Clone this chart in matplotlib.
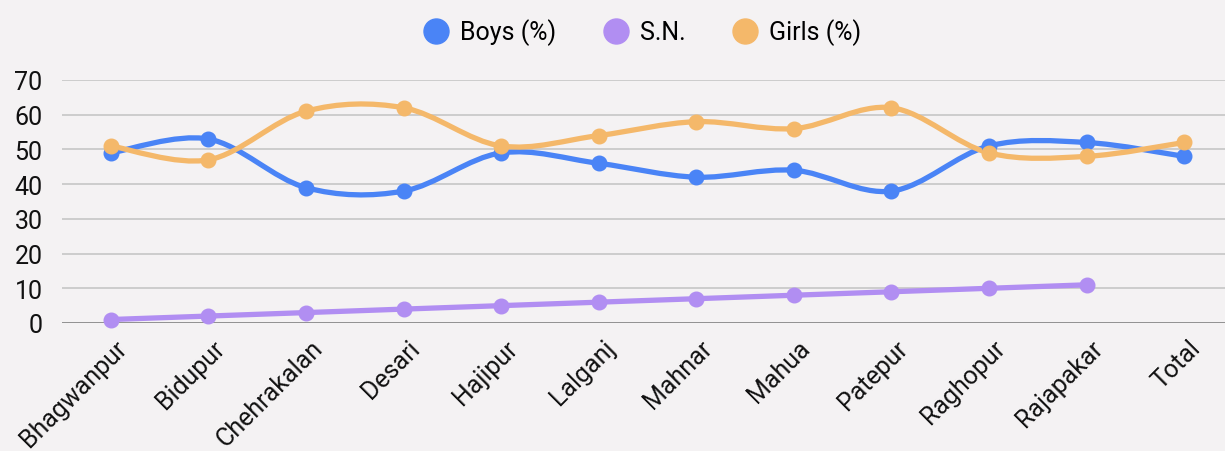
import matplotlib
matplotlib.use("Agg")
import matplotlib.pyplot as plt
from matplotlib.path import Path
from matplotlib.patches import PathPatch
from matplotlib.lines import Line2D
from matplotlib.transforms import ScaledTranslation
import numpy as np

plt.rcParams['font.family'] = ['Roboto', 'DejaVu Sans']

categories = ["Bhagwanpur", "Bidupur", "Chehrakalan", "Desari", "Hajipur", "Lalganj",
              "Mahnar", "Mahua", "Patepur", "Raghopur", "Rajapakar", "Total"]
boys = [49, 53, 39, 38, 49, 46, 42, 44, 38, 51, 52, 48]
sn = [1, 2, 3, 4, 5, 6, 7, 8, 9, 10, 11]
girls = [51, 47, 61, 62, 51, 54, 58, 56, 62, 49, 48, 52]
yticks = [0, 10, 20, 30, 40, 50, 60, 70]

C_BOYS = "#4a84f6"
C_SN = "#b18ef2"
C_GIRLS = "#f4b86a"
BG = "#f4f2f3"

W, H = 1225, 452
fig = plt.figure(figsize=(W / 100, H / 100), dpi=100, facecolor=BG)
ax = fig.add_axes([62 / W, 1 - 324 / H, (1233 - 62) / W, (324 - 81) / H])
ax.set_facecolor(BG)
ax.set_xlim(-0.5, 11.5)
ax.set_ylim(0, 70)


def smooth_path(xs, ys, tension=0.5):
    xs = np.asarray(xs, float)
    ys = np.asarray(ys, float)
    n = len(xs)
    verts = [(xs[0], ys[0])]
    codes = [Path.MOVETO]
    for i in range(n - 1):
        p0 = np.array([xs[max(i - 1, 0)], ys[max(i - 1, 0)]])
        p1 = np.array([xs[i], ys[i]])
        p2 = np.array([xs[i + 1], ys[i + 1]])
        p3 = np.array([xs[min(i + 2, n - 1)], ys[min(i + 2, n - 1)]])
        c1 = p1 + (p2 - p0) * tension / 3
        c2 = p2 - (p3 - p1) * tension / 3
        verts += [tuple(c1), tuple(c2), tuple(p2)]
        codes += [Path.CURVE4] * 3
    return Path(verts, codes)


for vals, col in [(sn, C_SN), (boys, C_BOYS), (girls, C_GIRLS)]:
    xs = np.arange(len(vals))
    patch = PathPatch(smooth_path(xs, vals, 0.5), facecolor="none", edgecolor=col,
                      lw=3.8, capstyle="round", joinstyle="round", zorder=3)
    ax.add_patch(patch)
    ax.plot(xs, vals, "o", color=col, ms=10.5, zorder=4, clip_on=False)

ax.set_yticks(yticks)
ax.set_xticks(np.arange(len(categories)))
ax.set_xticklabels(categories, rotation=45, ha="right", va="top", rotation_mode="anchor")
ax.tick_params(axis="y", length=0, pad=14, labelsize=18, labelcolor="#111111")
ax.tick_params(axis="x", length=0, pad=9, labelsize=18, labelcolor="#111111")
off = ScaledTranslation(4 / 100, 0, fig.dpi_scale_trans)
for lab in ax.get_xticklabels():
    lab.set_transform(lab.get_transform() + off)
ax.grid(axis="y", color="#c6c6c6", lw=1.2)
ax.set_axisbelow(True)
for s in ax.spines.values():
    s.set_visible(False)
ax.axhline(0, color="#888888", lw=1.2, zorder=2)

handles = [Line2D([], [], ls="none", marker="o", ms=18, color=c, label=l)
           for c, l in [(C_BOYS, "Boys (%)"), (C_SN, "S.N."), (C_GIRLS, "Girls (%)")]]
fig.legend(handles=handles, loc="center", bbox_to_anchor=(641 / W, 1 - 33 / H), ncol=3,
           frameon=False, fontsize=18, handletextpad=0.36, columnspacing=1.8,
           handlelength=1.2, borderpad=0)

fig.savefig("out.png", dpi=100, facecolor=BG)
